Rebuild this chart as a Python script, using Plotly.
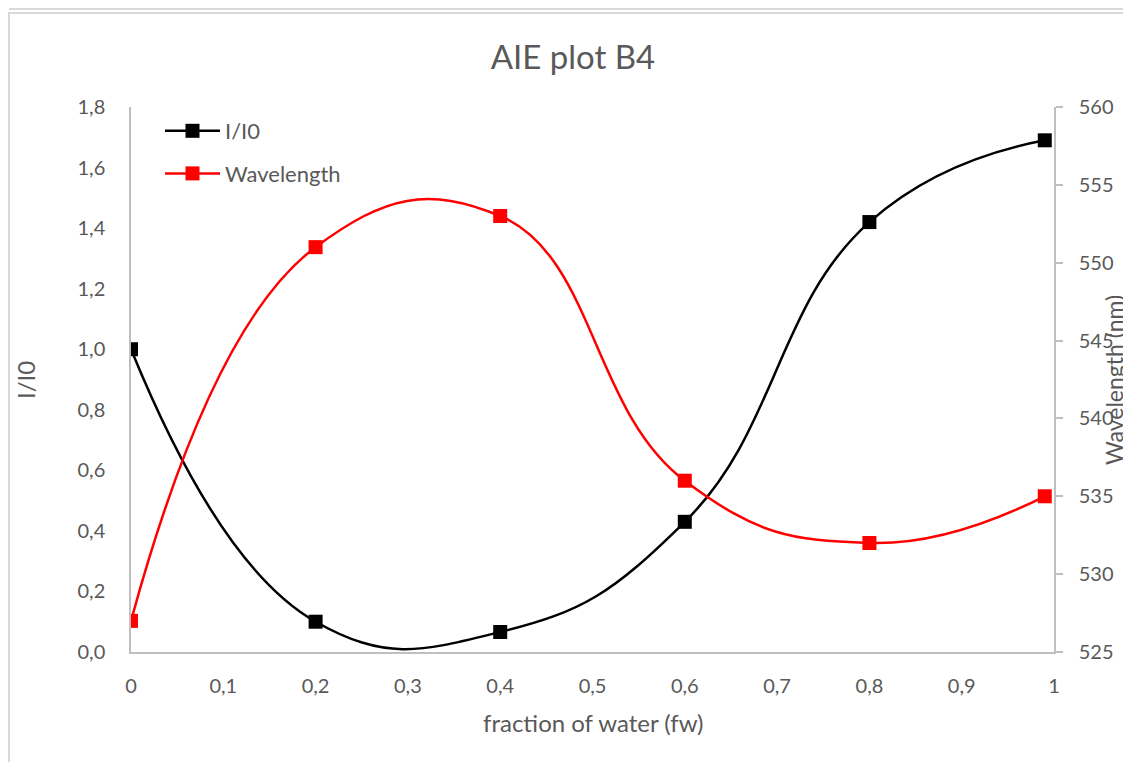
import plotly.graph_objects as go

# data
fw = [0, 0.2, 0.4, 0.6, 0.8, 0.99]
ratio = [1.0, 0.10, 0.066, 0.43, 1.42, 1.69]
wavelength = [527, 551, 553, 536, 532, 535]

FONT = "Lato"
TEXT = "#595959"
AXIS = "#bfbfbf"
FRAME = "#d9d9d9"

# page body adds an 8px offset; screen coords of the plot area: x 131..1054, y 107..652
OFF = 8
L, R, T, B = 131, 1054, 107, 652
W, H = 1131 - OFF, 762 - OFF


def px(x):
    return (x - L) / (R - L)


def py(y):
    return (B - y) / (B - T)


fig = go.Figure()
fig.add_trace(go.Scatter(
    x=fw, y=ratio, name="I/I0", legendgroup="a",
    mode="lines+markers", line=dict(color="black", width=2.5, shape="spline", smoothing=1.3),
    marker=dict(symbol="square", size=14, color="black"),
))
fig.add_trace(go.Scatter(
    x=fw, y=wavelength, name="Wavelength", legendgroup="b", yaxis="y2",
    mode="lines+markers", line=dict(color="#ff0000", width=2.5, shape="spline", smoothing=1.3),
    marker=dict(symbol="square", size=14, color="#ff0000"),
))

tickfont = dict(family=FONT, size=20, color=TEXT)

fig.update_layout(
    width=W, height=H,
    margin=dict(l=L - OFF, r=W - (R - OFF), t=T - OFF, b=H - (B - OFF)),
    paper_bgcolor="white", plot_bgcolor="white",
    separators=", ",
    font=dict(family=FONT, color=TEXT),
    title=dict(text="AIE plot B4", x=(573 - OFF) / W, xanchor="center",
               y=1 - (57 - OFF) / H, yanchor="middle",
               font=dict(family=FONT, size=33, color=TEXT)),
    showlegend=True,
    legend=dict(x=px(160), y=py(110), xanchor="left", yanchor="top",
                font=dict(family=FONT, size=22, color=TEXT), itemwidth=55,
                traceorder="grouped", tracegroupgap=11, bgcolor="rgba(0,0,0,0)"),
    xaxis=dict(range=[0, 1], dtick=0.1, tick0=0, showgrid=False, zeroline=False,
               showline=True, linecolor=AXIS, linewidth=1.5, ticks="",
               tickfont=tickfont, ticklabelstandoff=15),
    yaxis=dict(range=[0, 1.8], dtick=0.2, tickformat=".1f", showgrid=False, zeroline=False,
               showline=True, linecolor=AXIS, linewidth=1.5, ticks="",
               tickfont=tickfont, ticklabelstandoff=20),
    yaxis2=dict(range=[525, 560], dtick=5, overlaying="y", side="right", showgrid=False,
                zeroline=False, showline=True, linecolor=AXIS, linewidth=1.5,
                ticks="outside", ticklen=7, tickcolor=AXIS, tickwidth=1.5,
                tickfont=tickfont, ticklabelstandoff=12),
)

annots = [
    dict(text="fraction of water (fw)", x=px(593), y=py(722), size=24),
    dict(text="I/I0", x=px(25), y=py(380), textangle=-90, size=24),
    dict(text="Wavelength (nm)", x=px(1114), y=py(380), textangle=-90, size=23),
]
for a in annots:
    size = a.pop("size")
    fig.add_annotation(xref="paper", yref="paper", showarrow=False,
                       xanchor="center", yanchor="middle",
                       font=dict(family=FONT, size=size, color=TEXT), **a)

# outer chart frames as in the screenshot
fig.add_shape(type="rect", xref="paper", yref="paper",
              x0=px(9), x1=px(1145), y0=py(775), y1=py(13),
              line=dict(color=FRAME, width=2), layer="below")
fig.add_shape(type="line", xref="paper", yref="paper",
              x0=px(9), x1=px(1145), y0=py(9), y1=py(9),
              line=dict(color=FRAME, width=2), layer="below")

fig.write_html("out.html")
